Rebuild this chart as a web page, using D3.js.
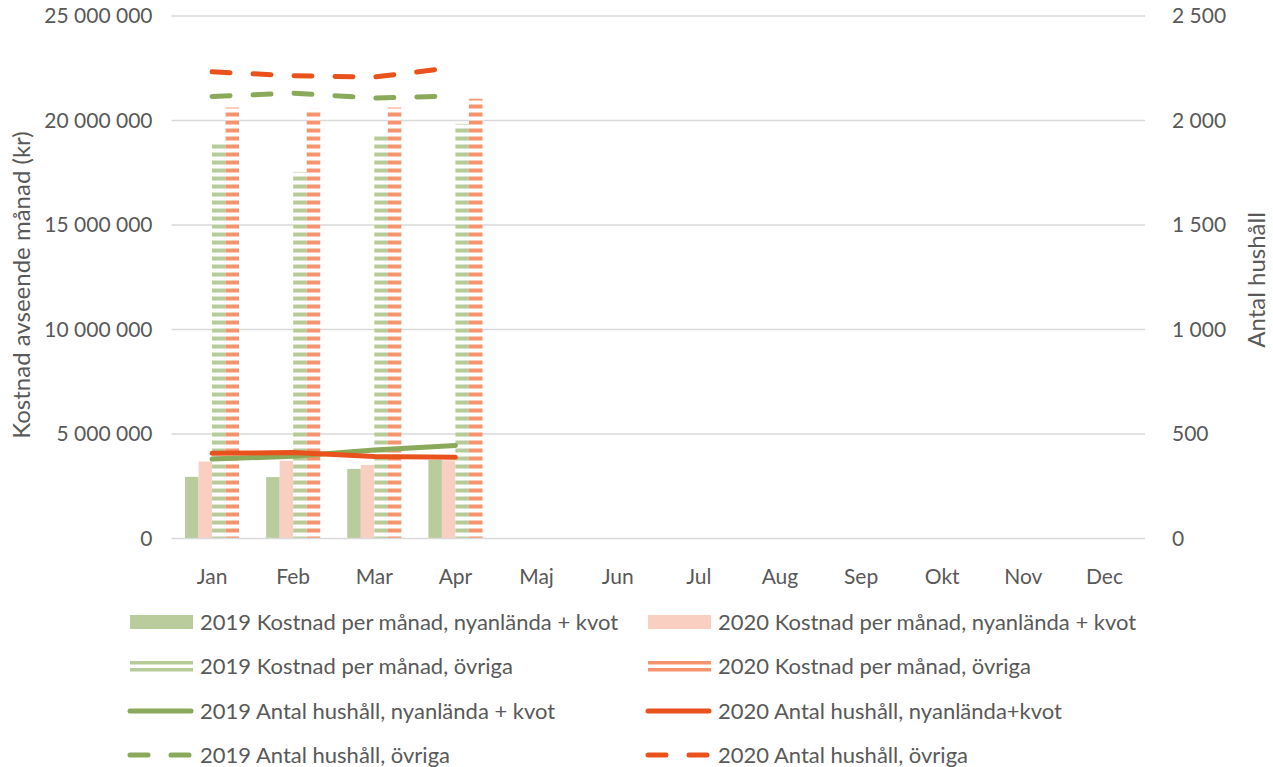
<!DOCTYPE html>
<html>
<head>
<meta charset="utf-8">
<script src="https://cdn.jsdelivr.net/npm/d3@7/dist/d3.min.js"></script>
<style>
  html, body { margin: 0; padding: 0; background: #ffffff; }
  svg { display: block; font-family: Lato, "Open Sans", sans-serif; }
</style>
</head>
<body>
<svg id="chart" width="1273" height="767"></svg>
<script>
// ---- data ----
const months = ["Jan","Feb","Mar","Apr","Maj","Jun","Jul","Aug","Sep","Okt","Nov","Dec"];
const cost2019New   = [2950000, 2940000, 3330000, 3760000];
const cost2020New   = [3680000, 3720000, 3520000, 3740000];
const cost2019Other = [18920000, 17540000, 19360000, 19840000];
const cost2020Other = [20620000, 20560000, 20620000, 21040000];
const hh2019New   = [380, 393, 423, 445];
const hh2020New   = [408, 411, 392, 389];
const hh2019Other = [2115, 2131, 2107, 2118];
const hh2020Other = [2233, 2214, 2208, 2255];
const leftTicks  = [0, 5000000, 10000000, 15000000, 20000000, 25000000];
const rightTicks = [0, 500, 1000, 1500, 2000, 2500];
const barSeries = [
  {name: "2019 Kostnad per månad, nyanlända + kvot", values: cost2019New, fill: "#bacb9c"},
  {name: "2020 Kostnad per månad, nyanlända + kvot", values: cost2020New, fill: "#f8cfc1"},
  {name: "2019 Kostnad per månad, övriga", values: cost2019Other, fill: "url(#stripeGreen)"},
  {name: "2020 Kostnad per månad, övriga", values: cost2020Other, fill: "url(#stripeRed)"}
];
const lineSeries = [
  {name: "2019 Antal hushåll, nyanlända + kvot", values: hh2019New, color: "#8aa95a", dash: null},
  {name: "2020 Antal hushåll, nyanlända+kvot", values: hh2020New, color: "#e9521d", dash: null},
  {name: "2019 Antal hushåll, övriga", values: hh2019Other, color: "#8aa95a", dash: "18,23"},
  {name: "2020 Antal hushåll, övriga", values: hh2020Other, color: "#e9521d", dash: "18,23"}
];

// ---- layout ----
const svg = d3.select("#chart");
const plot = {left: 171.5, right: 1145, top: 16, bottom: 538.5};
const textColor = "#595959";
const tickSize = 21;
const legendSize = 22;
const titleSize = 24;

const defs = svg.append("defs");
function stripe(id, color) {
  const p = defs.append("pattern").attr("id", id).attr("patternUnits", "userSpaceOnUse")
    .attr("width", 8).attr("height", 8);
  p.append("rect").attr("width", 8).attr("height", 8).attr("fill", "#ffffff");
  p.append("rect").attr("y", 0.5).attr("width", 8).attr("height", 4).attr("fill", color);
}
stripe("stripeGreen", "#b7cb98");
stripe("stripeRed", "#f4936d");

const x = d3.scaleBand().domain(months).range([plot.left, plot.right]);
const xInner = d3.scaleBand().domain(d3.range(4)).range([0, x.bandwidth()]).paddingInner(0).paddingOuter(1);
const yL = d3.scaleLinear().domain([0, 25000000]).range([plot.bottom, plot.top]);
const yR = d3.scaleLinear().domain([0, 2500]).range([plot.bottom, plot.top]);
const fmt = d3.formatLocale({decimal: ",", thousands: "\u00a0", grouping: [3], currency: ["", ""]}).format(",");

// gridlines
svg.append("g").selectAll("line").data(leftTicks.slice(1)).join("line")
  .attr("x1", plot.left).attr("x2", plot.right)
  .attr("y1", d => yL(d)).attr("y2", d => yL(d))
  .attr("stroke", "#d9d9d9").attr("stroke-width", 1.3);

// left axis
const axL = svg.append("g").attr("transform", `translate(${plot.left},0)`)
  .call(d3.axisLeft(yL).tickValues(leftTicks).tickFormat(fmt).tickSize(0).tickPadding(19));
axL.select(".domain").remove();
axL.selectAll("text").attr("fill", textColor).style("font-size", tickSize + "px").style("font-family", "Lato");

// right axis
const axR = svg.append("g").attr("transform", `translate(${plot.right},0)`)
  .call(d3.axisRight(yR).tickValues(rightTicks).tickFormat(fmt).tickSize(0).tickPadding(27));
axR.select(".domain").remove();
axR.selectAll("text").attr("fill", textColor).style("font-size", tickSize + "px").style("font-family", "Lato");

// bars
barSeries.forEach((s, i) => {
  svg.append("g").selectAll("rect").data(s.values).join("rect")
    .attr("x", (d, j) => x(months[j]) + xInner(i))
    .attr("width", xInner.bandwidth())
    .attr("y", d => yL(d))
    .attr("height", d => yL(0) - yL(d))
    .attr("fill", s.fill);
});

// baseline
svg.append("line").attr("x1", plot.left).attr("x2", plot.right)
  .attr("y1", yL(0)).attr("y2", yL(0)).attr("stroke", "#d9d9d9").attr("stroke-width", 1.5);

// bottom axis labels
const axB = svg.append("g").attr("transform", `translate(0,${plot.bottom})`)
  .call(d3.axisBottom(x).tickSize(0).tickPadding(31));
axB.select(".domain").remove();
axB.selectAll("text").attr("fill", textColor).style("font-size", tickSize + "px").style("font-family", "Lato");

// lines
const lineGen = d3.line().x((d, j) => x(months[j]) + x.bandwidth() / 2).y(d => yR(d));
lineSeries.forEach(s => {
  svg.append("path").datum(s.values).attr("d", lineGen)
    .attr("fill", "none").attr("stroke", s.color).attr("stroke-width", 5)
    .attr("stroke-linecap", "round").attr("stroke-linejoin", "round")
    .attr("stroke-dasharray", s.dash);
});

// axis titles
svg.append("text").attr("transform", "translate(30,285) rotate(-90)")
  .attr("text-anchor", "middle").attr("fill", textColor).style("font-size", titleSize + "px")
  .text("Kostnad avseende månad (kr)");
svg.append("text").attr("transform", "translate(1265,280) rotate(-90)")
  .attr("text-anchor", "middle").attr("fill", textColor).style("font-size", titleSize + "px")
  .text("Antal hushåll");

// legend
const legendItems = [
  {s: barSeries[0], type: "bar", col: 0, row: 0},
  {s: barSeries[1], type: "bar", col: 1, row: 0},
  {s: barSeries[2], type: "stripe", col: 0, row: 1, color: "#b7cb98"},
  {s: barSeries[3], type: "stripe", col: 1, row: 1, color: "#f4936d"},
  {s: lineSeries[0], type: "line", col: 0, row: 2},
  {s: lineSeries[1], type: "line", col: 1, row: 2},
  {s: lineSeries[2], type: "line", col: 0, row: 3},
  {s: lineSeries[3], type: "line", col: 1, row: 3}
];
const colX = [128, 646];
const rowY = [622, 666, 711, 755];
const lg = svg.append("g");
legendItems.forEach(it => {
  const gx = colX[it.col], gy = rowY[it.row];
  const g = lg.append("g").attr("transform", `translate(${gx},${gy})`);
  if (it.type === "bar") {
    g.append("rect").attr("x", 2).attr("y", -7).attr("width", 63).attr("height", 14).attr("fill", it.s.fill);
  } else if (it.type === "stripe") {
    g.append("rect").attr("x", 2).attr("y", -5).attr("width", 63).attr("height", 3.5).attr("fill", it.color);
    g.append("rect").attr("x", 2).attr("y", 2).attr("width", 63).attr("height", 3.5).attr("fill", it.color);
  } else {
    g.append("line").attr("x1", 2).attr("x2", 63).attr("y1", 0).attr("y2", 0)
      .attr("stroke", it.s.color).attr("stroke-width", 5).attr("stroke-linecap", "round")
      .attr("stroke-dasharray", it.s.dash);
  }
  g.append("text").attr("x", 72).attr("y", 0).attr("dy", "0.35em")
    .attr("fill", textColor).style("font-size", legendSize + "px").text(it.s.name);
});
</script>
</body>
</html>
